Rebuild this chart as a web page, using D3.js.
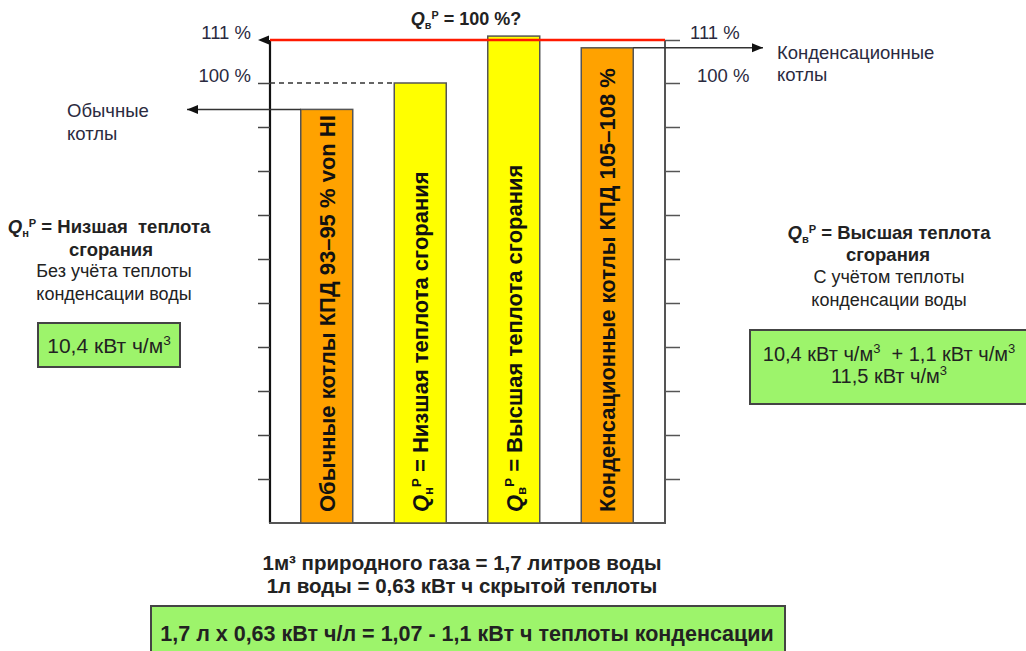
<!DOCTYPE html>
<html>
<head>
<meta charset="utf-8">
<script src="https://cdn.jsdelivr.net/npm/d3@7"></script>
<style>
  body { margin: 0; background: #fff; }
  svg { display: block; font-family: "Liberation Sans", Arial, sans-serif; }
  text { white-space: pre; }
</style>
</head>
<body>
<svg id="chart" width="1026" height="651"></svg>
<script>
// Bars: efficiency / heating value in percent of the lower heating value
const categories = ["obychnye", "nizshaya", "vysshaya", "kondensacionnye"];
const barTexts = [
  "Обычные котлы КПД 93–95 % von HI",
  " = Низшая теплота сгорания",
  " = Высшая теплота сгорания",
  "Конденсационные котлы КПД 105–108 %"
];
const qSubscripts = ["", "н", "в", ""];
const values = [94, 100, 112, 109];
const barKinds = ["boiler", "heat", "heat", "boiler"];

// Axis ticks and labelled levels
const tickValues = [10, 20, 30, 40, 50, 60, 70, 80, 90, 100];
const labelledLevels = [100, 111];
const levelLabels = ["100 %", "111 %"];
const maxLevel = 111;

// Side and bottom annotations
const leftArrowLines = ["Обычные", "котлы"];
const rightArrowLines = ["Конденсационные", "котлы"];
const leftNoteBold = [" = Низшая  теплота", "сгорания"];
const leftNotePlain = ["Без учёта теплоты", "конденсации воды"];
const rightNoteBold = [" = Высшая теплота", "сгорания"];
const rightNotePlain = ["С учётом теплоты", "конденсации воды"];
const leftBoxLines = ["10,4 кВт ч/м^3"];
const rightBoxLines = ["10,4 кВт ч/м^3  + 1,1 кВт ч/м^3", "11,5 кВт ч/м^3"];
const bottomLines = ["1м³ природного газа = 1,7 литров воды", "1л воды = 0,63 кВт ч скрытой теплоты"];
const bottomBoxLine = "1,7 л х 0,63 кВт ч/л = 1,07 - 1,1 кВт ч теплоты конденсации";

const colors = { boiler: "#ffa200", heat: "#ffff00" };
const textColor = "#222";
const labelColor = "#2a2a40";

const svg = d3.select("#chart");

const plot = { left: 270, right: 665, top: 40, bottom: 523 };

const x = d3.scaleBand()
  .domain(categories)
  .range([280, 654])
  .paddingInner(0.444)
  .paddingOuter(0.222);

// the top of the scale is stretched: 0–100 % and 100–111 % have different spacing
const y = d3.scaleLinear()
  .domain([0, 100, maxLevel])
  .range([plot.bottom, 83, plot.top]);

// Q with subscript and superscript P, followed by the rest of the line
function qText(textSel, sub, size, rest) {
  textSel.append("tspan").attr("font-style", "italic").attr("font-weight", "bold").text("Q");
  textSel.append("tspan").attr("font-size", size * 0.6).attr("dy", size * 0.2).attr("font-weight", "bold").text(sub);
  textSel.append("tspan").attr("font-size", size * 0.6).attr("dy", -size * 0.55).attr("font-weight", "bold").text("P");
  textSel.append("tspan").attr("dy", size * 0.35).text(rest);
}

// plain text where "^3" becomes a raised small 3
function supText(textSel, s, size) {
  const parts = s.split("^3");
  parts.forEach((p, i) => {
    textSel.append("tspan").attr("dy", i > 0 ? size * 0.38 : null).text(p);
    if (i < parts.length - 1) {
      textSel.append("tspan").attr("font-size", size * 0.65).attr("dy", -size * 0.38).text("3");
    }
  });
}

// ---- left axis ----
const leftAxis = d3.axisLeft(y)
  .tickValues(tickValues)
  .tickSize(12)
  .tickSizeOuter(0)
  .tickFormat("");
const gL = svg.append("g").attr("transform", `translate(${plot.left},0)`).call(leftAxis);
gL.select(".domain").attr("stroke", "#111").attr("stroke-width", 2.2)
  .attr("d", `M0,${plot.top}V${plot.bottom}`);
gL.selectAll(".tick line").attr("stroke", "#444").attr("stroke-width", 1.5);

// arrow head at top of the left axis
svg.append("path")
  .attr("d", `M${plot.left - 12},${y(maxLevel)} L${plot.left - 1},${y(maxLevel) - 4.5} L${plot.left - 1},${y(maxLevel) + 4.5} Z`)
  .attr("fill", "#111");

// ---- right axis ----
const rightAxis = d3.axisRight(y)
  .tickValues(tickValues.concat([maxLevel]))
  .tickSize(15)
  .tickSizeOuter(0)
  .tickFormat("");
const gR = svg.append("g").attr("transform", `translate(${plot.right},0)`).call(rightAxis);
gR.select(".domain").attr("stroke", "#555").attr("stroke-width", 2)
  .attr("d", `M0,${plot.top}V${plot.bottom + 1}`);
gR.selectAll(".tick line").attr("stroke", "#555").attr("stroke-width", 1.5);

// bottom line
svg.append("line")
  .attr("x1", plot.left - 1).attr("x2", plot.right + 1)
  .attr("y1", plot.bottom).attr("y2", plot.bottom)
  .attr("stroke", "#555").attr("stroke-width", 2.2);

// level labels on both sides
labelledLevels.forEach((v, i) => {
  svg.append("text")
    .attr("x", plot.left - 19).attr("y", y(v) - 1)
    .attr("text-anchor", "end")
    .attr("font-size", 18.5).attr("fill", labelColor)
    .text(levelLabels[i]);
  svg.append("text")
    .attr("x", plot.right + (v === maxLevel ? 25 : 32)).attr("y", y(v) - 1)
    .attr("text-anchor", "start")
    .attr("font-size", 18.5).attr("fill", labelColor)
    .text(levelLabels[i]);
});

// dashed 100 % guide
svg.append("line")
  .attr("x1", plot.left).attr("x2", x(categories[1]))
  .attr("y1", y(100)).attr("y2", y(100))
  .attr("stroke", "#333").attr("stroke-width", 1.5)
  .attr("stroke-dasharray", "5,4");

// ---- bars ----
svg.append("g").selectAll("rect")
  .data(categories)
  .join("rect")
  .attr("x", d => x(d))
  .attr("width", x.bandwidth())
  .attr("y", (d, i) => y(values[i]))
  .attr("height", (d, i) => plot.bottom - y(values[i]))
  .attr("fill", (d, i) => colors[barKinds[i]])
  .attr("stroke", "#555")
  .attr("stroke-width", 1.5);

// red 111 % line
svg.append("line")
  .attr("x1", plot.left).attr("x2", plot.right)
  .attr("y1", y(maxLevel)).attr("y2", y(maxLevel))
  .attr("stroke", "#ff1a00").attr("stroke-width", 2.5);

// vertical bar labels
categories.forEach((c, i) => {
  const cx = x(c) + x.bandwidth() / 2;
  const t = svg.append("text")
    .attr("transform", `translate(${cx + 8},${plot.bottom - 11}) rotate(-90)`)
    .attr("font-size", 22).attr("font-weight", "bold").attr("fill", "#111");
  if (qSubscripts[i]) qText(t, qSubscripts[i], 22, barTexts[i]);
  else t.text(barTexts[i]);
});

// ---- arrows to the side captions ----
function arrow(x1, x2, yy) {
  svg.append("line").attr("x1", x1).attr("x2", x2).attr("y1", yy).attr("y2", yy)
    .attr("stroke", "#333").attr("stroke-width", 1.5);
  const dir = x2 < x1 ? 1 : -1;
  svg.append("path")
    .attr("d", `M${x2},${yy} L${x2 + dir * 11},${yy - 4.5} L${x2 + dir * 11},${yy + 4.5} Z`)
    .attr("fill", "#111");
}
arrow(x(categories[0]), 187, y(values[0]));
arrow(x(categories[3]) + x.bandwidth(), 763, y(values[3]));

function lines(arr, xx, y0, dy, opts) {
  arr.forEach((s, i) => {
    const t = svg.append("text")
      .attr("x", xx).attr("y", y0 + i * dy)
      .attr("text-anchor", opts.anchor || "start")
      .attr("font-size", opts.size).attr("font-weight", opts.weight || "normal")
      .attr("fill", opts.fill || textColor);
    if (opts.sup) supText(t, s, opts.size);
    else t.text(s);
  });
}
lines(leftArrowLines, 67, 117, 23, { size: 18.5, fill: labelColor });
lines(rightArrowLines, 777, 59, 22, { size: 18.5, fill: labelColor });

// ---- left note ----
{
  const t = svg.append("text").attr("x", 109).attr("y", 233).attr("text-anchor", "middle")
    .attr("font-size", 18.5).attr("font-weight", "bold").attr("fill", textColor);
  qText(t, "н", 18.5, leftNoteBold[0]);
  lines(leftNoteBold.slice(1), 111, 256, 22, { size: 18.5, weight: "bold", anchor: "middle" });
  lines(leftNotePlain, 114, 277, 22.5, { size: 18, anchor: "middle" });
}
// ---- right note ----
{
  const t = svg.append("text").attr("x", 889).attr("y", 239).attr("text-anchor", "middle")
    .attr("font-size", 18.5).attr("font-weight", "bold").attr("fill", textColor);
  qText(t, "в", 18.5, rightNoteBold[0]);
  lines(rightNoteBold.slice(1), 888, 261, 22, { size: 18.5, weight: "bold", anchor: "middle" });
  lines(rightNotePlain, 889, 283, 22.5, { size: 18, anchor: "middle" });
}

// ---- green boxes ----
function greenBox(x0, y0, w, h) {
  svg.append("rect").attr("x", x0).attr("y", y0).attr("width", w).attr("height", h)
    .attr("fill", "#9df46b").attr("stroke", "#444").attr("stroke-width", 2);
}
greenBox(38, 323, 142, 44);
lines(leftBoxLines, 109, 353, 22, { size: 21, anchor: "middle", sup: true });
greenBox(750, 330, 278, 74);
lines(rightBoxLines, 889, 361, 22, { size: 20, anchor: "middle", sup: true });

// ---- bottom formulas ----
lines(bottomLines, 462, 570, 23, { size: 20.5, weight: "bold", anchor: "middle" });
greenBox(151, 606, 634, 50);
lines([bottomBoxLine], 467, 641, 0, { size: 21.5, weight: "bold", anchor: "middle" });

// ---- title ----
{
  const t = svg.append("text").attr("x", 466).attr("y", 25).attr("text-anchor", "middle")
    .attr("font-size", 18).attr("font-weight", "bold").attr("fill", textColor);
  qText(t, "в", 18, " = 100 %?");
}
</script>
</body>
</html>
